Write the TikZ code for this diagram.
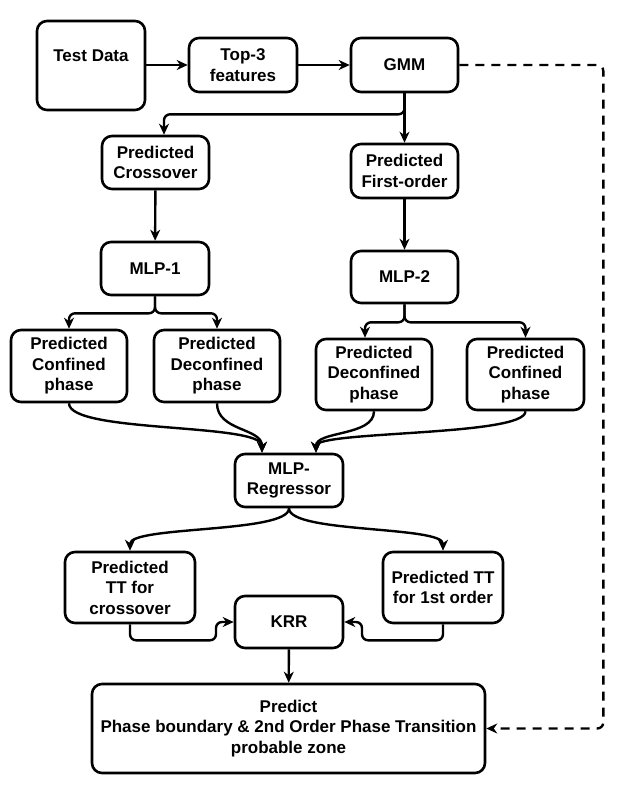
\documentclass[tikz,border=0pt]{standalone}
\usepackage{fontspec}
\setmainfont{Liberation Sans}
\usetikzlibrary{arrows.meta}
\begin{document}
\begin{tikzpicture}[x=1pt,y=-1pt,
 box/.style={draw, line width=2.6pt, rounded corners=10pt, align=center, inner sep=0pt, font=\bfseries\fontsize{17}{20.5}\selectfont},
 conn/.style={line width=2.4pt, -{Stealth[length=11pt,width=10pt,inset=3.5pt]}, rounded corners=6pt},
 dconn/.style={conn, dash pattern=on 9pt off 7pt}]
\useasboundingbox (0,0) rectangle (620,787);
\node[box, minimum width=108pt, minimum height=89pt, text height=12pt, text depth=21pt] (td) at (91,65.5) {Test Data};
\node[box, minimum width=108pt, minimum height=54pt] (top3) at (243,65) {Top-3\\features};
\node[box, minimum width=107pt, minimum height=54pt] (gmm) at (404.5,65) {GMM};
\node[box, minimum width=107pt, minimum height=53pt] (pc) at (155.5,162.5) {Predicted\\Crossover};
\node[box, minimum width=107pt, minimum height=54pt] (pf) at (404.5,171) {Predicted\\First-order};
\node[box, minimum width=108pt, minimum height=53pt] (mlp1) at (155,268.5) {MLP-1};
\node[box, minimum width=107pt, minimum height=52pt] (mlp2) at (404.5,277) {MLP-2};
\node[box, minimum width=116pt, minimum height=72pt] (c1) at (69,366) {Predicted\\Confined\\phase};
\node[box, minimum width=126pt, minimum height=72pt] (d1) at (217,366) {Predicted\\Deconfined\\phase};
\node[box, minimum width=116pt, minimum height=71pt] (d2) at (374,374.5) {Predicted\\Deconfined\\phase};
\node[box, minimum width=117pt, minimum height=71pt] (c2) at (525.5,374.5) {Predicted\\Confined\\phase};
\node[box, minimum width=108pt, minimum height=53pt] (reg) at (289,480.5) {MLP-\\Regressor};
\node[box, minimum width=130pt, minimum height=71pt] (tt1) at (130,587.5) {Predicted\\TT for\\crossover};
\node[box, minimum width=120pt, minimum height=71pt] (tt2) at (443,587.5) {Predicted TT\\for 1st order};
\node[box, minimum width=108pt, minimum height=52pt] (krr) at (289,622) {KRR};
\node[box, minimum width=393pt, minimum height=89pt] (pred) at (288.5,728.5) {Predict\\Phase boundary \& 2nd Order Phase Transition\\probable zone};

\draw[conn] (td.east |- top3.west) -- (top3.west);
\draw[conn] (top3) -- (gmm);
\draw[conn] (gmm.south) -- (pf.north);
\draw[conn] (gmm.south) -- ++(0,21) -| ([xshift=8.5pt]pc.north);
\draw[conn] (pc) -- (mlp1);
\draw[conn] (pf) -- (mlp2);
\draw[conn] (mlp1.south) -- ++(0,17) -| (c1.north);
\draw[conn] (mlp1.south) -- ++(0,17) -| (d1.north);
\draw[conn] (mlp2.south) -- ++(0,18) -| ([xshift=-9pt]d2.north);
\draw[conn] (mlp2.south) -- ++(0,18) -| (c2.north);
\draw[conn] (c1.south) .. controls +(0,30) and +(0,-30) .. ([xshift=-27pt]reg.north);
\draw[conn] (d1.south) .. controls +(0,28) and +(0,-25) .. ([xshift=-27pt]reg.north);
\draw[conn] (d2.south) .. controls +(0,25) and +(0,-22) .. ([xshift=27pt]reg.north);
\draw[conn] (c2.south) .. controls +(0,25) and +(0,-22) .. ([xshift=27pt]reg.north);
\draw[conn] (reg.south) .. controls +(0,25) and +(0,-25) .. (tt1.north);
\draw[conn] (reg.south) .. controls +(0,25) and +(0,-25) .. (tt2.north);
\draw[conn] (tt1.south) -- ++(0,16) -- ++(86,0) |- (krr.west);
\draw[conn] (tt2.south) -- ++(0,16) -- ++(-81,0) |- (krr.east);
\draw[conn] (krr) -- (pred);
\draw[dconn] (gmm.east) -- ++(144,0) |- (pred.east);
\end{tikzpicture}
\end{document}
